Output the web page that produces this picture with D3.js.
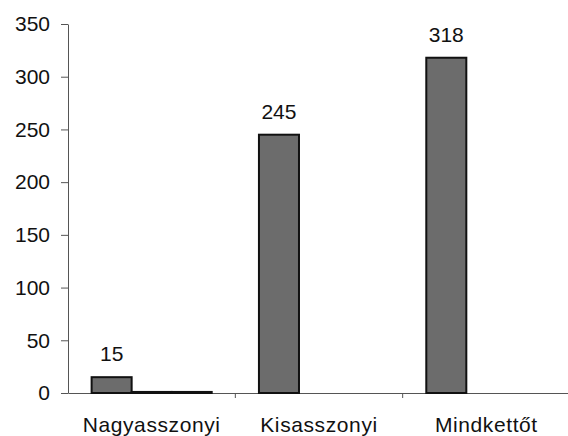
<!DOCTYPE html>
<html>
<head>
<meta charset="utf-8">
<script src="https://cdn.jsdelivr.net/npm/d3@7"></script>
<style>
  body { margin: 0; background: #fff; }
  text { font-family: "Liberation Sans", Arial, sans-serif; fill: #111; }
</style>
</head>
<body>
<svg id="chart" width="568" height="436"></svg>
<script>
const categories = ['Nagyasszonyi', 'Kisasszonyi', 'Mindkettőt']
const series = ['a', 'b', 'c']
const valuesA = [15, 245, 318]
const valuesB = [1, 0, 0]
const valuesC = [1, 0, 0]
const yTicks = [0, 50, 100, 150, 200, 250, 300, 350]

const plotLeft = 68, plotRight = 570, plotTop = 24, plotBottom = 393

const svg = d3.select('#chart')

const x = d3.scaleBand().domain(categories).range([plotLeft, plotRight])
const xs = d3.scaleBand().domain(series).range([0, x.bandwidth()]).paddingOuter(0.59)
const y = d3.scaleLinear().domain([0, 350]).range([plotBottom, plotTop])

const rows = []
categories.forEach((c, i) => {
  rows.push({cat: c, s: 'a', v: valuesA[i], label: true})
  rows.push({cat: c, s: 'b', v: valuesB[i]})
  rows.push({cat: c, s: 'c', v: valuesC[i]})
})

// y axis
const yAxis = d3.axisLeft(y).tickValues(yTicks).tickSize(7).tickPadding(11).tickSizeOuter(0)
svg.append('g')
   .attr('transform', 'translate(' + plotLeft + ',0)')
   .call(yAxis)
   .call(g => g.selectAll('line, path').attr('stroke', '#555'))
   .call(g => g.selectAll('text').style('font-size', '21px'))

// x axis
const xAxis = d3.axisBottom(x).tickSize(0).tickPadding(24)
svg.append('g')
   .attr('transform', 'translate(0,' + plotBottom + ')')
   .call(xAxis)
   .call(g => g.select('.domain').attr('stroke', '#555'))
   .call(g => g.selectAll('text').style('font-size', '21px').attr('letter-spacing', '0.6px'))

// category separators
svg.append('g')
   .selectAll('line')
   .data(categories.slice(1))
   .enter()
   .append('line')
   .attr('x1', d => x(d)).attr('x2', d => x(d))
   .attr('y1', plotBottom).attr('y2', plotBottom + 5)
   .attr('stroke', '#555')

// bars
svg.append('g')
   .selectAll('rect')
   .data(rows.filter(d => d.v > 0))
   .enter()
   .append('rect')
   .attr('x', d => x(d.cat) + xs(d.s))
   .attr('width', xs.bandwidth())
   .attr('y', d => y(d.v))
   .attr('height', d => y(0) - y(d.v))
   .attr('fill', '#6c6c6c')
   .attr('stroke', '#111')
   .attr('stroke-width', 2)

// value labels
svg.append('g')
   .selectAll('text')
   .data(rows.filter(d => d.label))
   .enter()
   .append('text')
   .attr('x', d => x(d.cat) + xs(d.s) + xs.bandwidth() / 2)
   .attr('y', d => y(d.v) - 16)
   .attr('text-anchor', 'middle')
   .style('font-size', '21px')
   .text(d => d.v)
</script>
</body>
</html>
